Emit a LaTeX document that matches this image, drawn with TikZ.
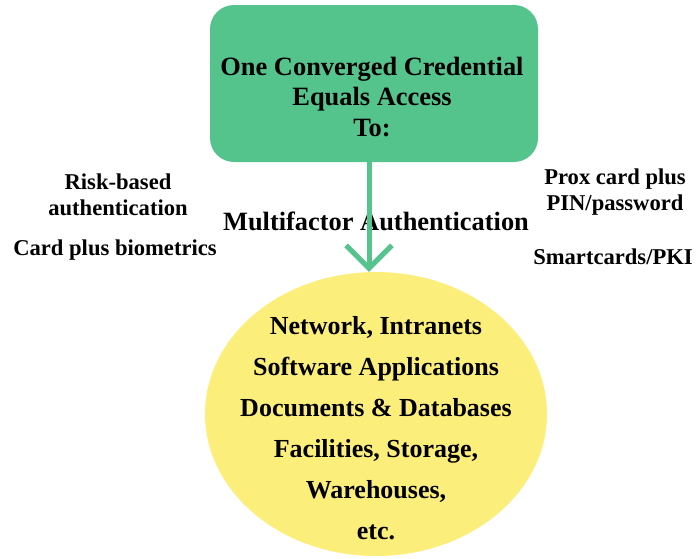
\documentclass[tikz,border=0pt]{standalone}
\usepackage{fontspec}
\setmainfont{Liberation Serif}
\usetikzlibrary{arrows.meta,shapes.geometric}
\definecolor{credgreen}{RGB}{85,195,140}
\definecolor{accyellow}{RGB}{252,238,122}

\begin{document}
\begin{tikzpicture}[x=1pt,y=-1pt,>={Straight Barb[length=23pt,width=46pt]},
		box node/.style={rectangle,rounded corners=24pt,fill=credgreen,minimum width=328pt,minimum height=157pt},
		target node/.style={ellipse,fill=accyellow,minimum width=342pt,minimum height=284pt,inner sep=0pt},
		main text/.style={align=center,font=\bfseries\fontsize{26.4}{30.5}\selectfont},
		side text/.style={align=center,font=\bfseries\fontsize{22.6}{26}\selectfont}]

		\useasboundingbox (0,0) rectangle (697,558);

		\node[box node] (1) at (374,83.5) {};
		\node[main text] (1t) at (372,97) {One Converged Credential\\Equals Access\\To:};

		\node[target node] (2) at (376,414) {};
		\node[main text,font=\bfseries\fontsize{26}{41}\selectfont] (2t) at (376,428)
		{Network, Intranets\\Software Applications\\Documents \& Databases\\Facilities, Storage,\\Warehouses,\\etc.};

		\node[side text] (risk) at (118,195) {Risk-based\\authentication};
		\node[side text] (card) at (115,250) {Card plus biometrics};
		\node[side text] (prox) at (615,192) {Prox card plus\\PIN/password};
		\node[side text] (smart) at (613,257) {Smartcards/PKI};
		\node[side text,font=\bfseries\fontsize{26.4}{30}\selectfont] (multi) at (376,221) {Multifactor Authentication};

		\draw[->,line width=5pt,credgreen] ([xshift=-5pt]1.south) -- ([xshift=-7pt]2.north);
	\end{tikzpicture}
\end{document}
